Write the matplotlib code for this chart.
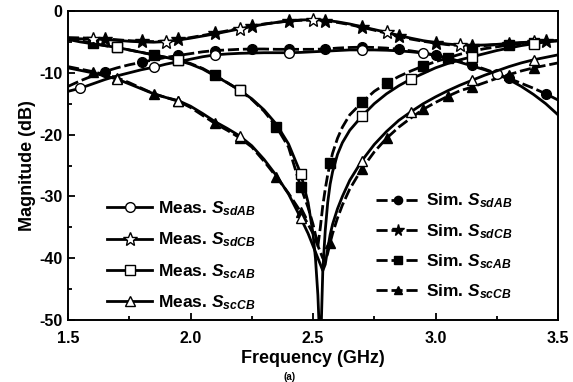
import numpy as np
import matplotlib
matplotlib.use("Agg")
import matplotlib.pyplot as plt
from matplotlib.lines import Line2D

plt.rcParams["font.family"] = ["Liberation Sans", "DejaVu Sans"]
plt.rcParams["font.weight"] = "bold"
plt.rcParams["axes.unicode_minus"] = False
plt.rcParams["mathtext.fontset"] = "custom"
plt.rcParams["mathtext.rm"] = "Liberation Sans:bold"
plt.rcParams["mathtext.it"] = "Liberation Sans:italic:bold"
plt.rcParams["mathtext.bf"] = "Liberation Sans:bold"

# ---- data (GHz, dB) ----
F_SD = [1.50, 1.55, 1.60, 1.65, 1.70, 1.75, 1.80, 1.85, 1.90, 1.95,
        2.00, 2.05, 2.10, 2.15, 2.20, 2.25, 2.30, 2.35, 2.40, 2.45,
        2.50, 2.55, 2.60, 2.65, 2.70, 2.75, 2.80, 2.85, 2.90, 2.95,
        3.00, 3.05, 3.10, 3.15, 3.20, 3.25, 3.30, 3.35, 3.40, 3.45, 3.50]

sim_sdAB = [-12.2, -11.3, -10.5, -9.8, -9.2, -8.7, -8.3, -7.9, -7.5, -7.2,
            -6.9, -6.6, -6.4, -6.3, -6.2, -6.15, -6.15, -6.2, -6.2, -6.2,
            -6.2, -6.15, -6.0, -5.9, -5.85, -5.9, -6.0, -6.2, -6.45, -6.75,
            -7.15, -7.6, -8.15, -8.75, -9.4, -10.1, -10.9, -11.7, -12.5, -13.4, -14.4]
meas_sdAB = [-13.0, -12.5, -11.8, -11.1, -10.5, -10.0, -9.5, -9.1, -8.6, -8.2,
             -7.8, -7.4, -7.1, -6.95, -6.85, -6.8, -6.75, -6.75, -6.75, -6.7,
             -6.6, -6.5, -6.4, -6.3, -6.3, -6.3, -6.35, -6.45, -6.6, -6.8,
             -7.2, -7.7, -8.3, -8.9, -9.5, -10.2, -11.1, -12.2, -13.5, -15.0, -16.8]
sim_sdCB = [-4.3, -4.35, -4.4, -4.5, -4.65, -4.8, -4.9, -4.95, -4.85, -4.6,
            -4.3, -3.95, -3.6, -3.2, -2.8, -2.4, -2.1, -1.85, -1.65, -1.5,
            -1.5, -1.6, -1.85, -2.2, -2.65, -3.1, -3.6, -4.1, -4.55, -4.9,
            -5.2, -5.45, -5.6, -5.65, -5.6, -5.45, -5.3, -5.15, -5.0, -4.9, -4.8]
meas_sdCB = [-4.5, -4.5, -4.55, -4.6, -4.75, -4.9, -5.0, -5.05, -4.95, -4.7,
             -4.4, -4.05, -3.7, -3.3, -2.9, -2.5, -2.15, -1.85, -1.6, -1.45,
             -1.4, -1.5, -1.75, -2.1, -2.55, -3.0, -3.45, -3.95, -4.4, -4.8,
             -5.1, -5.35, -5.5, -5.55, -5.5, -5.4, -5.25, -5.1, -5.0, -4.9, -4.8]

F_SC = [1.50, 1.55, 1.60, 1.65, 1.70, 1.75, 1.80, 1.85, 1.90, 1.95,
        2.00, 2.05, 2.10, 2.15, 2.20, 2.25, 2.30, 2.35, 2.40, 2.45,
        2.48, 2.50, 2.51, 2.52, 2.53, 2.54, 2.55, 2.56, 2.57, 2.58,
        2.60, 2.62, 2.65, 2.70, 2.75, 2.80, 2.85, 2.90, 2.95, 3.00,
        3.05, 3.10, 3.15, 3.20, 3.25, 3.30, 3.35, 3.40, 3.45, 3.50]

sim_scAB = [-4.4, -4.8, -5.2, -5.6, -5.9, -6.3, -6.7, -7.1, -7.5, -7.9,
            -8.5, -9.3, -10.4, -11.6, -12.8, -14.3, -16.2, -18.7, -22.0, -28.5,
            -31.8, -34.5, -36.2, -38.0, -35.0, -31.5, -28.8, -26.5, -24.6, -23.0,
            -20.6, -18.8, -16.8, -14.8, -13.0, -11.7, -10.6, -9.7, -8.9, -8.2,
            -7.6, -7.0, -6.5, -6.1, -5.8, -5.5, -5.3, -5.1, -4.95, -4.8]
meas_scAB = [-4.6, -5.0, -5.3, -5.6, -5.9, -6.3, -6.7, -7.1, -7.5, -8.0,
             -8.6, -9.4, -10.5, -11.6, -12.8, -14.2, -16.0, -18.3, -21.5, -26.3,
             -31.0, -36.0, -40.0, -46.0, -56.0, -42.0, -35.5, -31.0, -28.0, -26.0,
             -23.2, -21.3, -19.3, -17.0, -15.0, -13.4, -12.1, -11.0, -10.1, -9.2,
             -8.5, -7.9, -7.4, -6.9, -6.4, -6.0, -5.6, -5.3, -5.0, -4.8]
sim_scCB = [-9.0, -9.4, -9.8, -10.3, -10.8, -11.6, -12.5, -13.4, -14.0, -14.6,
            -15.6, -16.9, -18.2, -19.3, -20.5, -22.0, -24.3, -26.8, -29.5, -32.5,
            -34.5, -36.0, -37.0, -38.0, -39.0, -40.0, -40.5, -39.2, -37.5, -36.0,
            -33.5, -31.4, -28.8, -25.5, -22.8, -20.6, -18.8, -17.3, -15.9, -14.8,
            -13.8, -12.9, -12.3, -11.6, -10.9, -10.3, -9.7, -9.2, -8.8, -8.4]
meas_scCB = [-9.2, -9.6, -10.0, -10.5, -11.0, -11.8, -12.6, -13.4, -14.0, -14.5,
             -15.4, -16.6, -17.9, -19.0, -20.2, -21.8, -24.0, -26.6, -29.6, -33.5,
             -36.0, -38.0, -39.0, -40.0, -41.0, -42.0, -41.0, -38.5, -36.2, -34.5,
             -32.0, -30.0, -27.4, -24.2, -21.6, -19.5, -17.7, -16.3, -15.0, -13.9,
             -12.9, -12.0, -11.2, -10.4, -9.7, -9.0, -8.4, -7.9, -7.5, -7.1]

# where the symbols sit along each trace
MK_SD_SIM = [1.65, 1.80, 1.95, 2.10, 2.25, 2.40, 2.55, 2.70, 2.85, 3.00, 3.15, 3.30, 3.45]
MK_SDAB_MEAS = [1.55, 1.85, 2.10, 2.40, 2.70, 2.95, 3.25]
MK_SDCB_MEAS = [1.60, 1.90, 2.20, 2.50, 2.80, 3.10, 3.40]
MK_SC_SIM = [1.60, 1.70, 1.85, 1.95, 2.10, 2.20, 2.35, 2.45, 2.57, 2.70,
             2.80, 2.95, 3.05, 3.15, 3.30, 3.40]
MK_SC_MEAS = [1.70, 1.95, 2.20, 2.45, 2.70, 2.90, 3.15, 3.40]

LABELS = ["sdAB", "sdCB", "scAB", "scCB"]
MARKERS = ["o", "*", "s", "^"]
MSIZE = [7, 10, 6.5, 7.5]


def idx(freqs, marks):
    f = np.asarray(freqs)
    return [int(np.argmin(np.abs(f - m))) for m in marks]


SIM_DASH = (0, (4, 1.4))
LW = 2.0

fig = plt.figure(figsize=(5.73, 3.82), dpi=100)
ax = fig.add_axes([68 / 573, 1 - 320 / 382, 490 / 573, 309 / 382])

series = [
    (F_SD, sim_sdAB, meas_sdAB, MK_SD_SIM, MK_SDAB_MEAS),
    (F_SD, sim_sdCB, meas_sdCB, MK_SD_SIM, MK_SDCB_MEAS),
    (F_SC, sim_scAB, meas_scAB, MK_SC_SIM, MK_SC_MEAS),
    (F_SC, sim_scCB, meas_scCB, MK_SC_SIM, MK_SC_MEAS),
]
for (f, sim, meas, mks, mkm), m, ms in zip(series, MARKERS, MSIZE):
    ax.plot(f, sim, color="black", lw=LW, ls=SIM_DASH, marker=m, ms=ms,
            mfc="black", mec="black", markevery=idx(f, mks), zorder=3)
    ax.plot(f, meas, color="black", lw=LW, ls="-", marker=m, ms=ms,
            mfc="white", mec="black", mew=1.0, markevery=idx(f, mkm), zorder=4)

ax.set_xlim(1.5, 3.5)
ax.set_ylim(-50, 0)
ax.set_xticks([1.5, 2.0, 2.5, 3.0, 3.5])
ax.set_xticks([1.75, 2.25, 2.75, 3.25], minor=True)
ax.set_yticks([0, -10, -20, -30, -40, -50])
ax.set_yticks([-5, -15, -25, -35, -45], minor=True)
ax.xaxis.set_major_formatter(matplotlib.ticker.FormatStrFormatter("%.1f"))
ax.tick_params(which="both", direction="in", width=1.3, labelsize=11.5)
ax.tick_params(axis="x", pad=8)
ax.tick_params(axis="y", pad=4)
ax.tick_params(which="major", length=5)
ax.tick_params(which="minor", length=3)
for s in ax.spines.values():
    s.set_linewidth(1.4)
ax.set_xlabel("Frequency (GHz)", fontsize=13, fontweight="bold", labelpad=3)
ax.set_ylabel("Magnitude (dB)", fontsize=13, fontweight="bold", labelpad=2)

meas_h = [Line2D([], [], color="black", lw=LW, marker=m, ms=ms, mfc="white", mec="black")
          for m, ms in zip(MARKERS, MSIZE)]
sim_h = [Line2D([], [], color="black", lw=LW, ls=SIM_DASH, marker=m, ms=ms * 0.85,
                mfc="black", mec="black") for m, ms in zip(MARKERS, MSIZE)]
leg1 = ax.legend(meas_h, ["Meas. $S_{%s}$" % l for l in LABELS], loc="upper left",
                 bbox_to_anchor=(0.08, 0.39), frameon=False, fontsize=12.5,
                 handlelength=2.6, handletextpad=0.3, labelspacing=0.72,
                 borderpad=0, borderaxespad=0)
ax.add_artist(leg1)
ax.legend(sim_h, ["Sim. $S_{%s}$" % l for l in LABELS], loc="upper left",
          bbox_to_anchor=(0.628, 0.415), frameon=False, fontsize=12.5,
          handlelength=2.6, handletextpad=0.3, labelspacing=0.66,
          borderpad=0, borderaxespad=0)

fig.text(290 / 573, 0.0, "(a)", ha="center", va="bottom", fontsize=7)

fig.savefig("out.png", dpi=100)
